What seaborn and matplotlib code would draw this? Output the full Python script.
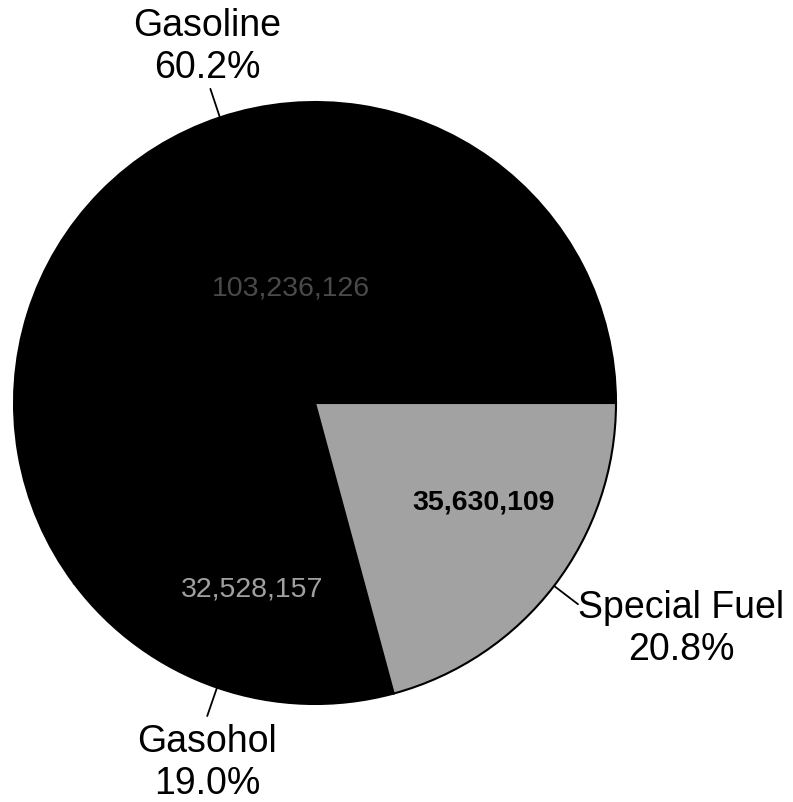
import numpy as np
import matplotlib
matplotlib.use('Agg')
import matplotlib.pyplot as plt
import seaborn as sns

# Dữ liệu
fuels = ['Gasoline', 'Gasohol', 'Special Fuel']
gallons = [103236126, 32528157, 35630109]
pct_labels = ['60.2%', '19.0%', '20.8%']
value_labels = ['103,236,126', '32,528,157', '35,630,109']
colors = ['#000000', '#000000', '#a2a2a2']

# Vị trí chữ (toạ độ dữ liệu, bán kính = 1)
name_pos = [(-0.359, 1.183), (-0.359, -1.196), (1.216, -0.751)]
value_pos = [(-0.080, 0.382), (-0.209, -0.621), (0.561, -0.329)]
value_style = [dict(color='#4a4a4a', weight='normal'),
               dict(color='#a0a0a0', weight='normal'),
               dict(color='#000000', weight='bold')]

sns.set_style('white')
plt.rcParams['font.family'] = ['Liberation Sans', 'DejaVu Sans']
plt.rcParams['text.color'] = 'black'

fig = plt.figure(figsize=(7.93, 8.02), dpi=100)
ax = fig.add_axes([0, 0, 1, 1])

wedges, _ = ax.pie(gallons, colors=colors, startangle=0, counterclock=True,
                   wedgeprops=dict(edgecolor='black', linewidth=1.5))

for i, w in enumerate(wedges):
    mid = np.deg2rad((w.theta1 + w.theta2) / 2)
    # đường dẫn nhãn
    ax.plot([np.cos(mid), 1.10 * np.cos(mid)], [np.sin(mid), 1.10 * np.sin(mid)],
            color='black', lw=1.3)
    ax.text(name_pos[i][0], name_pos[i][1], f'{fuels[i]}\n{pct_labels[i]}',
            ha='center', va='center', fontsize=27, linespacing=1.2, color='black')
    ax.text(value_pos[i][0], value_pos[i][1], value_labels[i],
            ha='center', va='center', fontsize=20.5, **value_style[i])

ax.set_xlim(-315 / 301, (793 - 315) / 301)
ax.set_ylim(-(802 - 403) / 301, 403 / 301)
ax.set_aspect('auto')
ax.axis('off')

plt.savefig('out.png', dpi=100)
